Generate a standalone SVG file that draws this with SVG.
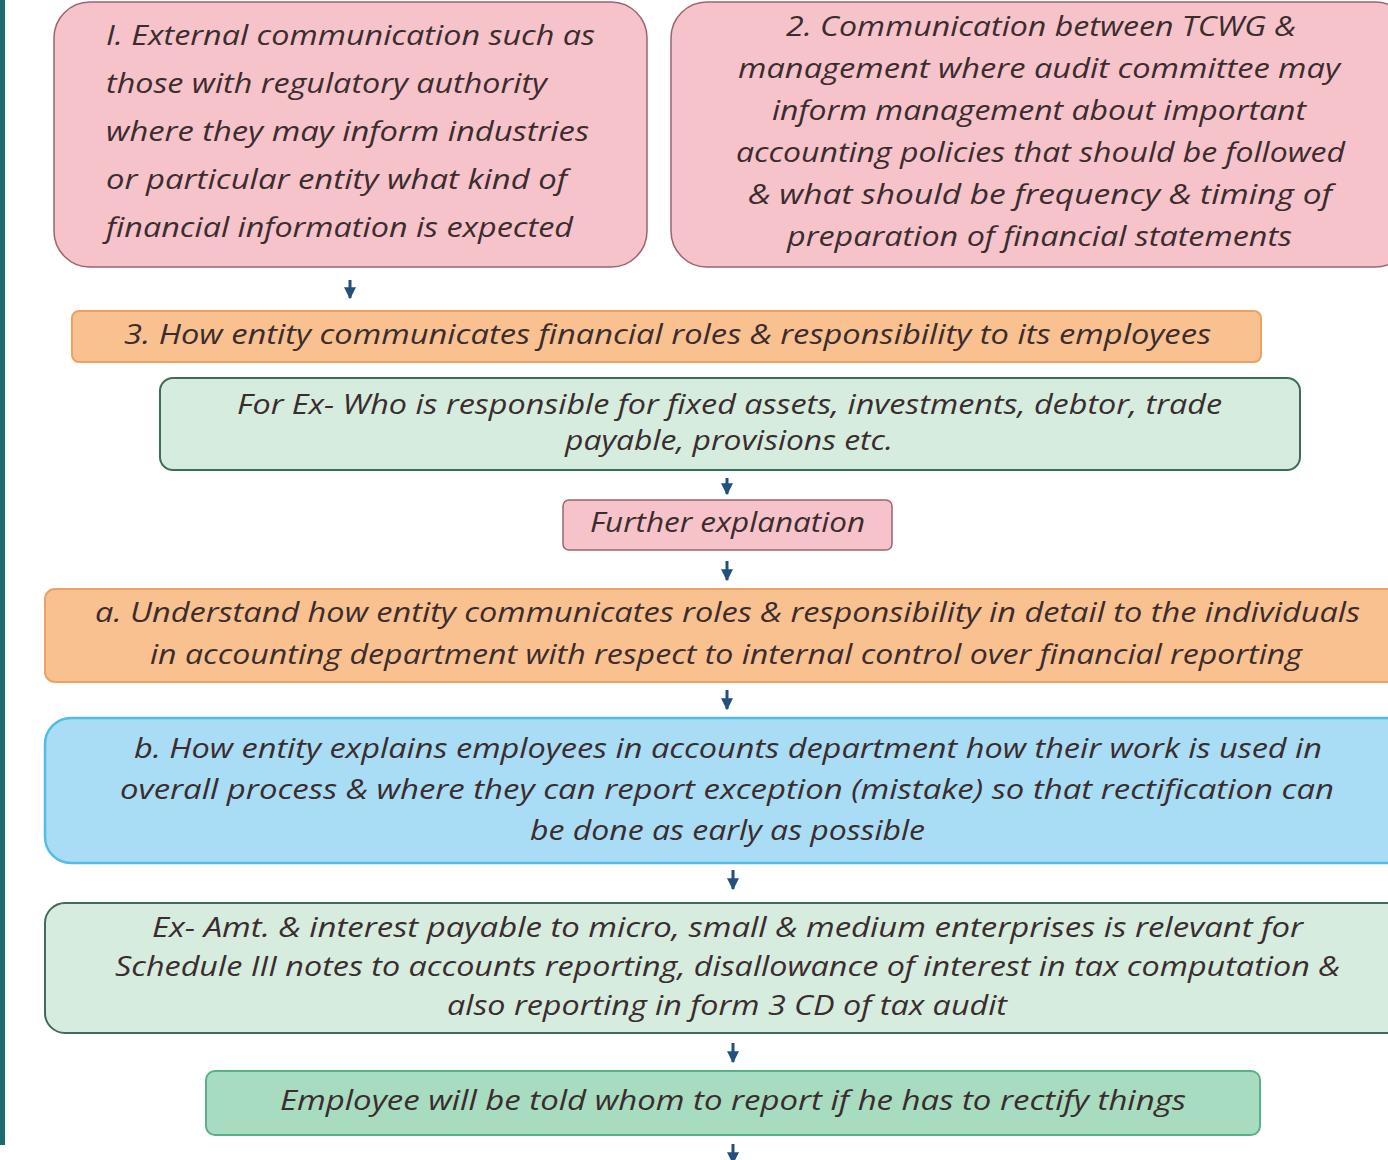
<svg xmlns="http://www.w3.org/2000/svg" width="1388" height="1160" viewBox="0 0 1388 1160">
  <defs>
    <marker id="ah" viewBox="0 0 10 10" refX="9" refY="5" markerWidth="4" markerHeight="4" orient="auto" markerUnits="strokeWidth">
      <path d="M0,0 L10,5 L0,10 z" fill="#24507d"/>
    </marker>
  </defs>
  <style>
    text { font-family: "Open Sans", "Liberation Sans", sans-serif; font-style: italic; font-size: 27px; fill: #3b2c2e; }
    .pink { fill: #f6c3cb; stroke: #9b6470; stroke-width: 1.5; }
    .orange { fill: #f9c18f; stroke: #eda066; stroke-width: 2; }
    .mint { fill: #d6ecdf; stroke: #3f6b5c; stroke-width: 2; }
    .blue { fill: #a9dcf5; stroke: #52bce6; stroke-width: 2.5; }
    .green { fill: #a8dcc0; stroke: #58b186; stroke-width: 2; }
    .arrow { stroke: #24507d; stroke-width: 3; fill: none; marker-end: url(#ah); }
    .c { text-anchor: middle; }
  </style>

  <rect width="1388" height="1160" fill="#ffffff"/>
  <!-- left edge rule -->
  <rect x="0" y="0" width="5" height="1145" fill="#1b6a73"/>

  <g id="connectors">
    <line class="arrow" x1="350" y1="280" x2="350" y2="298"/>
    <line class="arrow" x1="727" y1="478" x2="727" y2="494"/>
    <line class="arrow" x1="727" y1="561" x2="727" y2="580"/>
    <line class="arrow" x1="727" y1="690" x2="727" y2="709"/>
    <line class="arrow" x1="733" y1="870" x2="733" y2="889"/>
    <line class="arrow" x1="733" y1="1043" x2="733" y2="1062"/>
    <line class="arrow" x1="733" y1="1144" x2="733" y2="1163"/>
  </g>

  <g id="n1">
    <rect class="pink" x="54" y="2" width="593" height="265" rx="36"/>
    <text x="106" y="45" textLength="489" lengthAdjust="spacingAndGlyphs">I. External communication such as</text>
    <text x="106" y="93" textLength="441" lengthAdjust="spacingAndGlyphs">those with regulatory authority</text>
    <text x="106" y="141" textLength="483" lengthAdjust="spacingAndGlyphs">where they may inform industries</text>
    <text x="106" y="189" textLength="461" lengthAdjust="spacingAndGlyphs">or particular entity what kind of</text>
    <text x="106" y="237" textLength="467" lengthAdjust="spacingAndGlyphs">financial information is expected</text>
  </g>

  <g id="n2">
    <rect class="pink" x="671" y="2" width="740" height="265" rx="36"/>
    <text x="786" y="36" textLength="510" lengthAdjust="spacingAndGlyphs">2. Communication between TCWG &amp;</text>
    <text x="738" y="78" textLength="602" lengthAdjust="spacingAndGlyphs">management where audit committee may</text>
    <text x="772" y="120" textLength="534" lengthAdjust="spacingAndGlyphs">inform management about important</text>
    <text x="736" y="162" textLength="609" lengthAdjust="spacingAndGlyphs">accounting policies that should be followed</text>
    <text x="748" y="204" textLength="584" lengthAdjust="spacingAndGlyphs">&amp;  what should be frequency &amp; timing of</text>
    <text x="787" y="246" textLength="505" lengthAdjust="spacingAndGlyphs">preparation of financial statements</text>
  </g>

  <g id="n3">
    <rect class="orange" x="72" y="311" width="1189" height="51" rx="7"/>
    <text x="124" y="344" textLength="1087" lengthAdjust="spacingAndGlyphs">3. How entity communicates financial roles &amp; responsibility to its employees</text>
  </g>

  <g id="n4">
    <rect class="mint" x="160" y="378" width="1140" height="92" rx="13"/>
    <text x="237" y="414" textLength="985" lengthAdjust="spacingAndGlyphs">For Ex- Who is responsible for fixed assets, investments, debtor, trade</text>
    <text x="565" y="450" textLength="328" lengthAdjust="spacingAndGlyphs">payable, provisions etc.</text>
  </g>

  <g id="n5">
    <rect class="pink" x="563" y="500" width="329" height="50" rx="6"/>
    <text x="590" y="532" textLength="275" lengthAdjust="spacingAndGlyphs">Further explanation</text>
  </g>

  <g id="n6">
    <rect class="orange" x="45" y="589" width="1370" height="93" rx="10"/>
    <text x="95" y="622" textLength="1265" lengthAdjust="spacingAndGlyphs">a. Understand how entity communicates roles &amp; responsibility in detail to the individuals</text>
    <text x="150" y="664" textLength="1152" lengthAdjust="spacingAndGlyphs">in accounting department with respect to internal control over financial reporting</text>
  </g>

  <g id="n7">
    <rect class="blue" x="45" y="718" width="1370" height="145" rx="26"/>
    <text x="134" y="758" textLength="1188" lengthAdjust="spacingAndGlyphs">b. How entity explains employees in accounts department how their work is used in</text>
    <text x="120" y="799" textLength="1214" lengthAdjust="spacingAndGlyphs">overall process &amp; where they can report exception (mistake) so that rectification can</text>
    <text x="530" y="840" textLength="395" lengthAdjust="spacingAndGlyphs">be done as early as possible</text>
  </g>

  <g id="n8">
    <rect class="mint" x="45" y="903" width="1370" height="130" rx="20"/>
    <text x="152" y="937" textLength="1151" lengthAdjust="spacingAndGlyphs">Ex- Amt. &amp; interest payable to micro, small &amp; medium enterprises is relevant for</text>
    <text x="115" y="976" textLength="1225" lengthAdjust="spacingAndGlyphs">Schedule III notes to accounts reporting, disallowance of interest in tax computation &amp;</text>
    <text x="447" y="1015" textLength="560" lengthAdjust="spacingAndGlyphs">also reporting in form 3 CD of tax audit</text>
  </g>

  <g id="n9">
    <rect class="green" x="206" y="1071" width="1054" height="64" rx="9"/>
    <text x="280" y="1110" textLength="906" lengthAdjust="spacingAndGlyphs">Employee will be told whom to report if he has to rectify things</text>
  </g>
</svg>
